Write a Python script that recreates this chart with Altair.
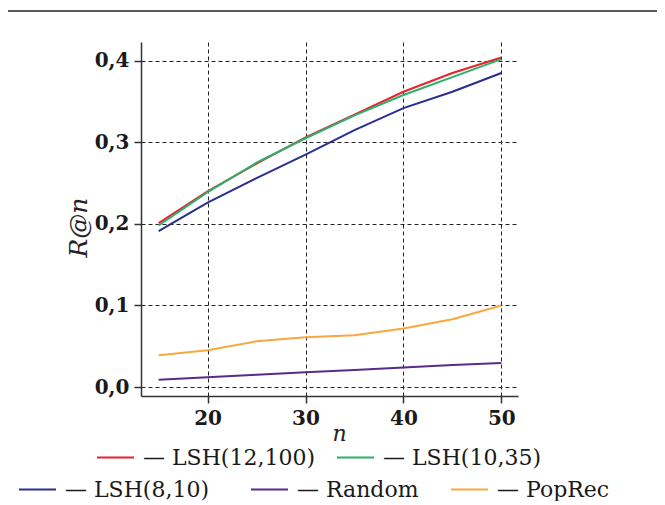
import altair as alt
import pandas as pd

n_values = [15, 20, 25, 30, 35, 40, 45, 50]
series_names = ["LSH(12,100)", "LSH(10,35)", "LSH(8,10)", "Random", "PopRec"]
series_colors = ["#e8232b", "#2bb06b", "#2a2e8e", "#5a2a8a", "#f8a83c"]
lsh_12_100 = [0.201, 0.240, 0.274, 0.306, 0.334, 0.362, 0.385, 0.404]
lsh_10_35 = [0.198, 0.239, 0.275, 0.305, 0.333, 0.358, 0.380, 0.402]
lsh_8_10 = [0.191, 0.226, 0.256, 0.285, 0.315, 0.342, 0.362, 0.385]
random_rec = [0.009, 0.012, 0.015, 0.018, 0.021, 0.024, 0.027, 0.0295]
poprec = [0.039, 0.045, 0.056, 0.061, 0.0635, 0.0717, 0.083, 0.100]
all_values = [lsh_12_100, lsh_10_35, lsh_8_10, random_rec, poprec]
x_ticks = [20, 30, 40, 50]
y_ticks = [0.0, 0.1, 0.2, 0.3, 0.4]

# legend placement (relative to plot origin)
legend_pos = [(-45, 396), (195, 396), (-123, 428), (109, 428), (309, 428)]

SERIF = "DejaVu Serif"

x_scale = alt.Scale(domain=[13.2, 51.7], nice=False, zero=False)
y_scale = alt.Scale(domain=[-0.011, 0.423], nice=False, zero=False)
x_axis = alt.Axis(values=x_ticks, title="n")
y_axis = alt.Axis(values=y_ticks, format=".1f",
                  labelExpr="replace(datum.label, '.', ',')", title="R@n")

layers = []
for i, (name, color, vals) in enumerate(zip(series_names, series_colors, all_values)):
    df = pd.DataFrame({"n": n_values, "r": vals, "series": [name] * len(vals)})
    lx, ly = legend_pos[i]
    enc = dict(
        x=alt.X("n:Q", scale=x_scale, axis=x_axis),
        y=alt.Y("r:Q", scale=y_scale, axis=y_axis),
        color=alt.Color("series:N",
                        scale=alt.Scale(domain=[name], range=[color]),
                        legend=alt.Legend(orient="none", legendX=lx, legendY=ly,
                                          title=None, symbolType="stroke",
                                          symbolSize=1369, symbolStrokeWidth=2,
                                          labelFont=SERIF, labelFontSize=22,
                                          labelColor="#1a1a1a", labelOffset=8,
                                          labelLimit=400,
                                          labelExpr="'— ' + datum.label",
                                          padding=0)),
    )
    layers.append(alt.Chart(df).mark_line(strokeWidth=2).encode(**enc))

top_rule = alt.Chart(pd.DataFrame({"a": [0]})).mark_rule(
    color="#222", strokeWidth=1.5
).encode(x=alt.value(-134), x2=alt.value(524), y=alt.value(-31))

chart = alt.layer(*layers, top_rule).resolve_scale(color="independent").properties(
    width=377, height=354,
    autosize=alt.AutoSizeParams(type="none"),
    padding={"left": 133, "top": 34, "right": 139, "bottom": 105},
).configure_view(stroke=None).configure_axis(
    grid=True, gridColor="#222", gridDash=[4, 3], gridWidth=1, gridOpacity=1,
    domainColor="#333", domainWidth=1.5, tickColor="#333", tickWidth=1.5, tickSize=7,
    labelFont=SERIF, labelFontSize=20, labelFontWeight="bold", labelColor="#1a1a1a",
    labelPadding=5, titleFont=SERIF, titleFontSize=22, titleFontStyle="italic",
    titleFontWeight="normal", titleColor="#222",
).configure_axisX(
    titleX=198, titleY=44, titleBaseline="alphabetic", titleAlign="center",
).configure_axisY(
    titleX=-55, titleY=185, titleBaseline="alphabetic", titleAlign="center", titleAngle=270,
    titleFontSize=25,
)

chart.save("out.html", embed_options={"renderer": "svg", "actions": False})
